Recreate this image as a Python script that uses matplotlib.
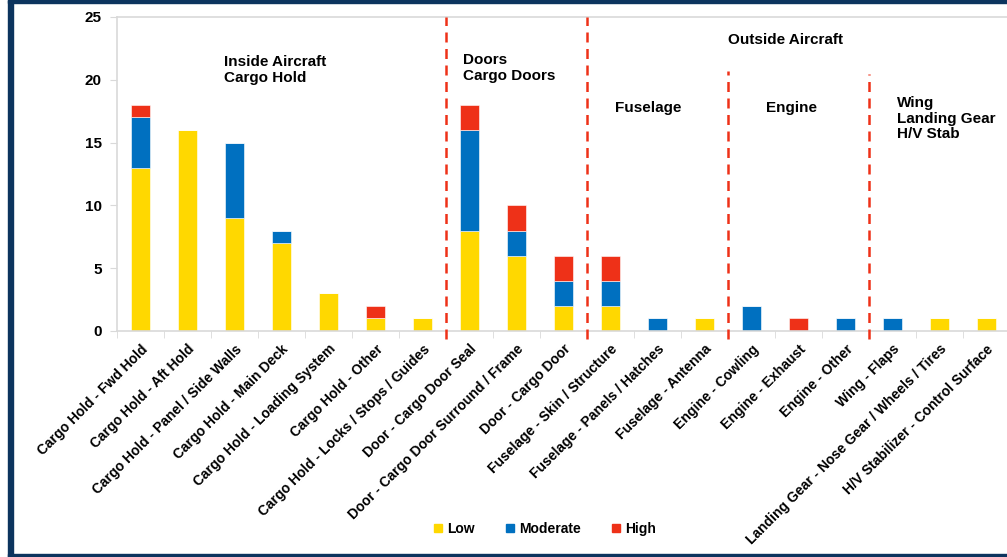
import matplotlib.pyplot as plt
import numpy as np
from matplotlib.lines import Line2D
from matplotlib.patches import Rectangle

plt.rcParams["font.family"] = ["Liberation Sans", "DejaVu Sans"]
plt.rcParams["font.weight"] = "bold"

categories = [
    "Cargo Hold - Fwd Hold",
    "Cargo Hold - Aft Hold",
    "Cargo Hold - Panel / Side Walls",
    "Cargo Hold - Main Deck",
    "Cargo Hold - Loading System",
    "Cargo Hold - Other",
    "Cargo Hold - Locks / Stops / Guides",
    "Door - Cargo Door Seal",
    "Door - Cargo Door Surround / Frame",
    "Door - Cargo Door",
    "Fuselage - Skin / Structure",
    "Fuselage - Panels / Hatches",
    "Fuselage - Antenna",
    "Engine - Cowling",
    "Engine - Exhaust",
    "Engine - Other",
    "Wing - Flaps",
    "Landing Gear - Nose Gear / Wheels / Tires",
    "H/V Stabilizer - Control Surface",
]
low = [13, 16, 9, 7, 3, 1, 1, 8, 6, 2, 2, 0, 1, 0, 0, 0, 0, 1, 1]
moderate = [4, 0, 6, 1, 0, 0, 0, 8, 2, 2, 2, 1, 0, 2, 0, 1, 1, 0, 0]
high = [1, 0, 0, 0, 0, 1, 0, 2, 2, 2, 2, 0, 0, 0, 1, 0, 0, 0, 0]

# section dividers sit between categories; (x, top of line)
dividers = [(6.5, 25), (9.5, 25), (12.5, 20.7), (15.5, 20.5)]

YELLOW = "#FFD800"
BLUE = "#0070C0"
RED = "#EE3118"
NAVY = "#0C345E"
GRID = "#D9D9D9"

fig = plt.figure(figsize=(10.07, 5.57), dpi=100)
W, H = 1007, 557
ax = fig.add_axes([117 / W, 1 - 331 / H, (19 * 47) / W, 314 / H])

x = np.arange(len(categories))
low_a = np.array(low)
mod_a = np.array(moderate)
high_a = np.array(high)
bw = 0.41
kw = dict(width=bw, edgecolor="white", linewidth=0.4)
ax.bar(x, low_a, color=YELLOW, **kw)
ax.bar(x, mod_a, bottom=low_a, color=BLUE, **kw)
ax.bar(x, high_a, bottom=low_a + mod_a, color=RED, **kw)

ax.set_xlim(-0.5, len(categories) - 0.5)
ax.set_ylim(0, 25)
ax.set_yticks(range(0, 26, 5))
ax.tick_params(axis="y", length=5, color=GRID, labelsize=11, pad=6)

ax.set_xticks(x)
ax.set_xticklabels(categories, rotation=45, ha="right",
                   rotation_mode="anchor", fontsize=10)
ax.set_xticks(np.arange(-0.5, len(categories), 1), minor=True)
ax.tick_params(axis="x", which="major", length=0, pad=8)
ax.tick_params(axis="x", which="minor", length=5, color=GRID)

for side in ["left", "bottom", "top"]:
    ax.spines[side].set_color(GRID)
    ax.spines[side].set_linewidth(1.2)
ax.spines["right"].set_visible(False)

for xd, top in dividers:
    ax.vlines(xd, -0.6, top, colors=RED, linestyles=(0, (4, 2.6)),
              linewidth=1.8, clip_on=False, zorder=3)

def px(xp, yp):
    # pixel position -> data coordinates of the axes
    return (xp - 117) / 47 - 0.5, (331 - yp) / 12.56

labels = [
    (224, 55, "Inside Aircraft\nCargo Hold"),
    (463, 53, "Doors\nCargo Doors"),
    (728, 33, "Outside Aircraft"),
    (615, 101, "Fuselage"),
    (766, 101, "Engine"),
    (897, 96, "Wing\nLanding Gear\nH/V Stab"),
]
for xp, yp, txt in labels:
    tx, ty = px(xp, yp)
    ax.text(tx, ty, txt, ha="left", va="top", fontsize=11,
            linespacing=1.15, fontweight="bold")

handles = [
    Line2D([], [], marker="s", linestyle="none", color=c, markersize=6)
    for c in (YELLOW, BLUE, RED)
]
fig.legend(handles, ["Low", "Moderate", "High"], loc="center",
           bbox_to_anchor=(545 / W, 1 - 529 / H), ncol=3, frameon=False,
           fontsize=10, handlelength=0.6, handletextpad=0.4,
           columnspacing=2.2)

# frame on left, top and bottom edges
fig.add_artist(Rectangle((8 / W, 0), 5 / W, 1, transform=fig.transFigure,
                         color=NAVY, zorder=10))
fig.add_artist(Rectangle((8 / W, 1 - 3 / H), 1, 3 / H,
                         transform=fig.transFigure, color=NAVY, zorder=10))
fig.add_artist(Rectangle((8 / W, 0), 1, 3 / H, transform=fig.transFigure,
                         color=NAVY, zorder=10))

fig.savefig("out.png", dpi=100)
